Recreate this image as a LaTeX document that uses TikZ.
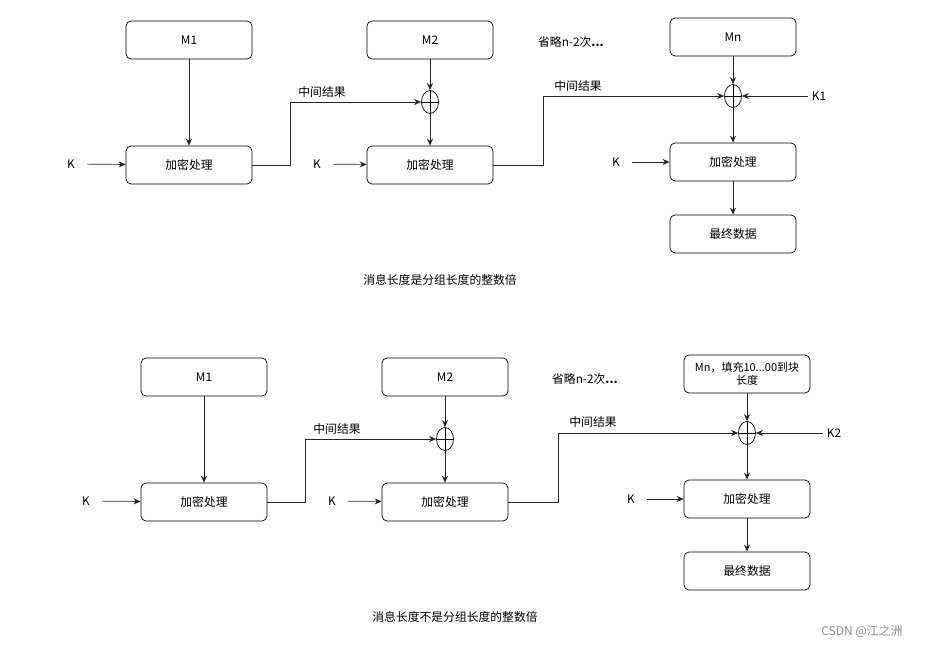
\documentclass[tikz,border=0pt]{standalone}
\usepackage{fontspec}
\setmainfont{Noto Sans CJK SC}
\usetikzlibrary{arrows.meta,shapes.geometric}
\begin{document}
\begin{tikzpicture}[x=1pt,y=-1pt,
  font=\fontsize{11.8pt}{13pt}\selectfont,
  box/.style={draw, rounded corners=5pt, minimum width=126pt, minimum height=38pt, inner sep=2pt, line width=0.7pt, align=center},
  xor/.style={draw, ellipse, minimum width=17pt, minimum height=23pt, inner sep=0pt, line width=0.7pt,
    path picture={\draw[line width=0.6pt] (path picture bounding box.north) -- (path picture bounding box.south)
      (path picture bounding box.west) -- (path picture bounding box.east);}},
  klab/.style={inner xsep=12pt, inner ysep=2pt},
  lab/.style={inner sep=1pt},
  arr/.style={draw=black!85, line width=0.7pt, -{Stealth[length=7pt,width=6pt]}},
  ln/.style={draw=black!85, line width=0.7pt}
]
\useasboundingbox (0,0) rectangle (926,647);

% ---------- top section ----------
\node[box] (m1) at (189,40) {M1};
\node[box] (m2) at (430,40) {M2};
\node[box] (mn) at (733,37) {Mn};
\node[lab] (om1) at (571,42) {省略n-2次\textbf{...}};
\node[xor] (x2) at (430,102) {};
\node[xor] (x3) at (733,96) {};
\node[box] (e1) at (189,165) {加密处理};
\node[box] (e2) at (430,165) {加密处理};
\node[box] (e3) at (733,162) {加密处理};
\node[box] (f1) at (733,234) {最终数据};
\node[klab] (ka) at (71,164) {K};
\node[klab] (kb) at (317,164) {K};
\node[klab] (kc) at (616,162) {K};
\node[inner xsep=4pt] (k1) at (819,96) {K1};
\node[lab] (r1) at (322,92) {中间结果};
\node[lab] (r2) at (578,86) {中间结果};
\node[lab] (c1) at (440,280) {消息长度是分组长度的整数倍};

\draw[arr] (m1) -- (e1);
\draw[arr] (m2) -- (x2);
\draw[arr] (x2) -- (e2);
\draw[arr] (mn) -- (x3);
\draw[arr] (x3) -- (e3);
\draw[arr] (e3) -- (f1);
\draw[arr] (ka) -- (e1);
\draw[arr] (kb) -- (e2);
\draw[arr] (kc) -- (e3);
\draw[arr] (k1) -- (x3);
\draw[arr] (e1.east) -- ++(38,0) |- (x2.west);
\draw[arr] (e2.east) -- ++(50,0) |- (x3.west);

% ---------- bottom section ----------
\node[box] (bm1) at (204,377) {M1};
\node[box] (bm2) at (445,377) {M2};
\node[box, font=\fontsize{11pt}{13pt}\selectfont] (bmn) at (747,374) {Mn，填充10...00到块\\长度};
\node[lab] (om2) at (585,379) {省略n-2次\textbf{...}};
\node[xor] (bx2) at (445,439) {};
\node[xor] (bx3) at (747,433) {};
\node[box] (be1) at (204,502) {加密处理};
\node[box] (be2) at (445,502) {加密处理};
\node[box] (be3) at (747,499) {加密处理};
\node[box] (bf1) at (747,571) {最终数据};
\node[klab] (bka) at (86,501) {K};
\node[klab] (bkb) at (332,501) {K};
\node[klab] (bkc) at (631,499) {K};
\node[inner xsep=4pt] (k2) at (834,433) {K2};
\node[lab] (br1) at (337,429) {中间结果};
\node[lab] (br2) at (593,422) {中间结果};
\node[lab] (c2) at (455,617) {消息长度不是分组长度的整数倍};

\draw[arr] (bm1) -- (be1);
\draw[arr] (bm2) -- (bx2);
\draw[arr] (bx2) -- (be2);
\draw[arr] (bmn) -- (bx3);
\draw[arr] (bx3) -- (be3);
\draw[arr] (be3) -- (bf1);
\draw[arr] (bka) -- (be1);
\draw[arr] (bkb) -- (be2);
\draw[arr] (bkc) -- (be3);
\draw[arr] (k2) -- (bx3);
\draw[arr] (be1.east) -- ++(38,0) |- (bx2.west);
\draw[arr] (be2.east) -- ++(50,0) |- (bx3.west);

\node[text=black!45, font=\fontsize{12pt}{14pt}\selectfont] (wm) at (862,631) {CSDN @江之洲};
\end{tikzpicture}
\end{document}
